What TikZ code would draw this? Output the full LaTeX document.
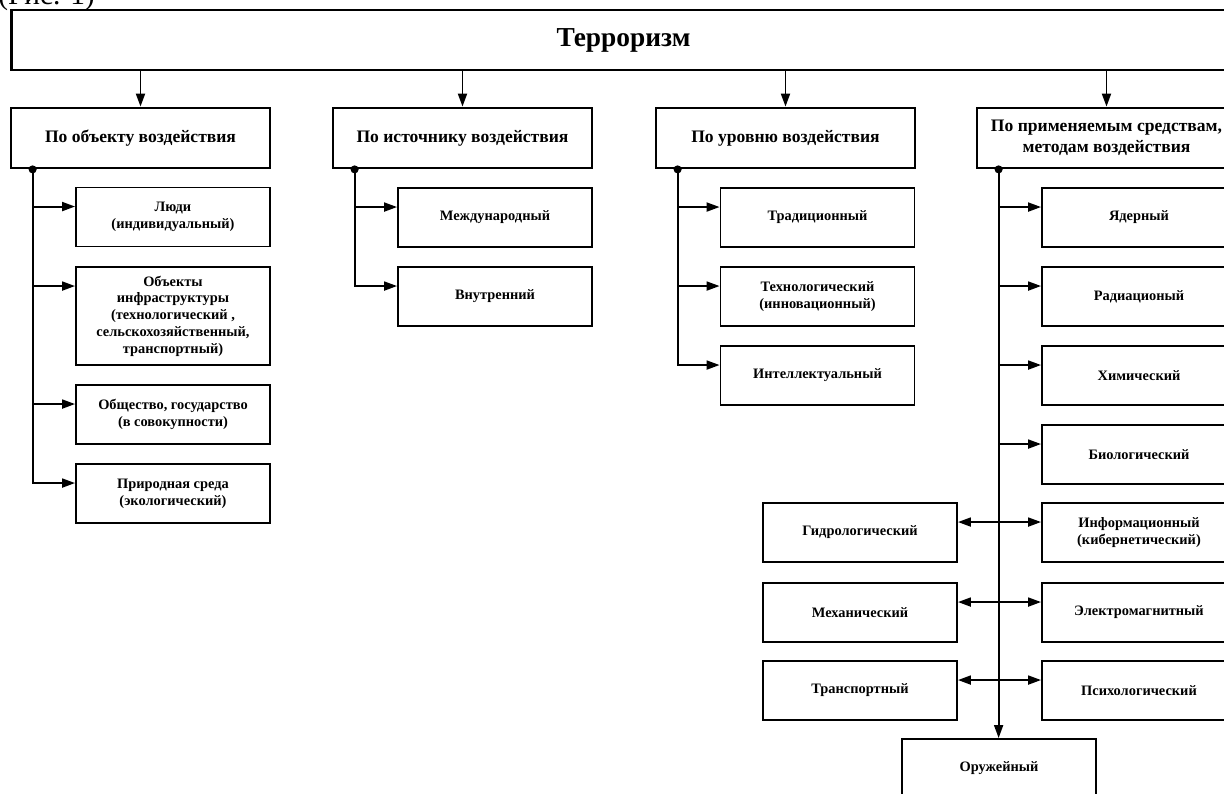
\documentclass[tikz,border=0pt]{standalone}
\usepackage{fontspec}
\setmainfont{Liberation Serif}
\usetikzlibrary{arrows.meta}
\usetikzlibrary{positioning}

\begin{document}
\begin{tikzpicture}[x=0.02cm,y=-0.02cm,
head/.style={draw,line width=1.6pt,minimum width=24.5cm,minimum height=1.2cm,font=\bfseries\fontsize{15.6}{18}\selectfont},
group/.style={draw,line width=1.6pt,minimum width=5.18cm,minimum height=1.2cm,align=center,font=\bfseries\fontsize{10}{12}\selectfont},
kind/.style={draw,line width=1.1pt,minimum width=3.88cm,minimum height=1.18cm,align=center,font=\bfseries\fontsize{8.2}{9.5}\selectfont},
link/.style={line width=1.1pt,-{Triangle[length=2.6mm,width=1.8mm]}},
twolink/.style={line width=1.1pt,{Triangle[length=2.6mm,width=1.8mm]}-{Triangle[length=2.6mm,width=1.8mm]}},
dot/.style={radius=2.3pt}]
\useasboundingbox (0,0) rectangle (1224,794);
\node[anchor=base west,inner sep=0pt,font=\fontsize{16.7}{19}\selectfont] (fig) at (-2,5) {(Рис. 1)};
\node[head] (terror) at (623.5,40) {Терроризм};

\node[group] (g1) at (140.5,138) {По объекту воздействия};
\node[group] (g2) at (462.5,138) {По источнику воздействия};
\node[group] (g3) at (785.5,138) {По уровню воздействия};
\node[group] (g4) at (1106.5,138) {По применяемым средствам,\\методам воздействия};
\foreach \g in {g1,g2,g3,g4}{
  \draw[link] (terror.south -| \g.north) -- (\g.north);
  \coordinate (\g d) at ([xshift=0.46cm]\g.south west);
}

\node[kind] (p1) at (173,217) {Люди\\(индивидуальный)};
\node[kind,minimum height=1.96cm] (p2) at (173,316) {Объекты\\инфраструктуры\\(технологический ,\\сельскохозяйственный,\\транспортный)};
\node[kind] (p3) at (173,414.5) {Общество, государство\\(в совокупности)};
\node[kind] (p4) at (173,493.5) {Природная среда\\(экологический)};

\node[kind] (s1) at (495,217.5) {Международный};
\node[kind] (s2) at (495,296.5) {Внутренний};

\node[kind] (u1) at (817.5,217.5) {Традиционный};
\node[kind] (u2) at (817.5,296.5) {Технологический\\(инновационный)};
\node[kind] (u3) at (817.5,375.5) {Интеллектуальный};

\node[kind] (r1) at (1139,217.5) {Ядерный};
\node[kind] (r2) at (1139,296.5) {Радиационый};
\node[kind] (r3) at (1139,375.5) {Химический};
\node[kind] (r4) at (1139,454.5) {Биологический};
\node[kind] (r5) at (1139,532.5) {Информационный\\(кибернетический)};
\node[kind] (r6) at (1139,612.5) {Электромагнитный};
\node[kind] (r7) at (1139,690.5) {Психологический};
\node[kind] (l5) at (860,532.5) {Гидрологический};
\node[kind] (l6) at (860,612.5) {Механический};
\node[kind] (l7) at (860,690.5) {Транспортный};
\node[kind] (w) at (999,768.5) {Оружейный};

\foreach \k in {p1,p2,p3,p4}
  \draw[link] (g1d) |- ([yshift=-0.4cm]\k.north west);
\foreach \k in {s1,s2}
  \draw[link] (g2d) |- ([yshift=-0.4cm]\k.north west);
\foreach \k in {u1,u2,u3}
  \draw[link] (g3d) |- ([yshift=-0.4cm]\k.north west);
\foreach \k in {r1,r2,r3,r4}
  \draw[link] (g4d) |- ([yshift=-0.4cm]\k.north west);
\foreach \k in {5,6,7}
  \draw[twolink] ([yshift=-0.4cm]l\k.north east) -- ([yshift=-0.4cm]r\k.north west);
\draw[link] (g4d) -- (g4d |- w.north);
\foreach \g in {g1,g2,g3,g4}
  \fill (\g d) circle[dot];
\end{tikzpicture}
\end{document}
